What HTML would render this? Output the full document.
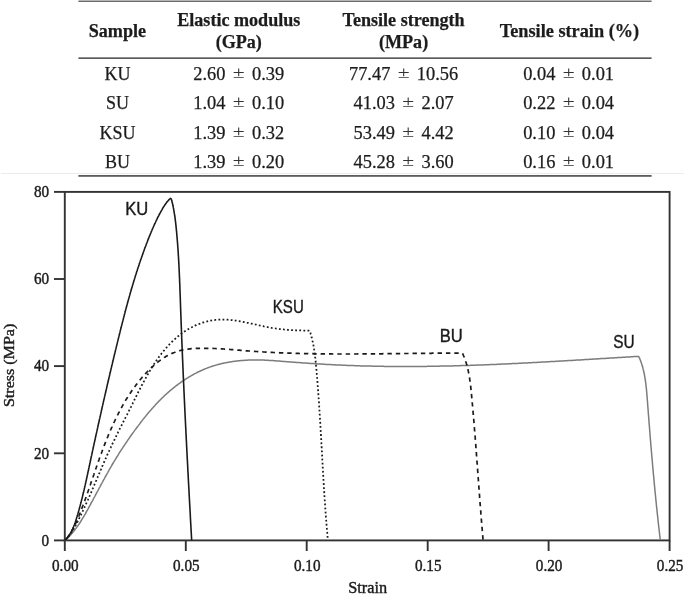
<!DOCTYPE html>
<html lang="en"><head><meta charset="utf-8"><title>Tensile properties</title>
<style>
html,body{margin:0;padding:0;background:#fff}
body{width:685px;height:596px;position:relative;overflow:hidden}
svg{position:absolute;left:0;top:0;display:block}
svg text{font-family:"Liberation Serif","Times New Roman",serif;font-size:15.2px;fill:#1c1c1c;stroke:#1c1c1c;stroke-width:.4px}
svg .tbl text{font-size:18.4px;text-anchor:middle;stroke-width:.25px}
svg .hd text{font-weight:bold;font-size:18.1px}
svg .pm{fill:#333;stroke:none}
svg .lab{font-family:"Liberation Sans","DejaVu Sans",sans-serif;font-size:16.6px;fill:#1a1a1a;stroke:#1a1a1a;stroke-width:.35px}
</style></head><body>
<svg width="685" height="596" viewBox="0 0 685 596">
<rect x="1" y="173" width="683" height="1" fill="#ececec"/>
<g fill="#484848">
<rect x="78.4" y="0.6" width="573.2" height="1.2"/>
<rect x="78.4" y="57.4" width="573.2" height="1.5"/>
<rect x="78.4" y="175" width="573.2" height="1.8" fill="#5c5c5c"/>
</g>
<g class="tbl">
<g class="hd">
<text x="117.4" y="37">Sample</text>
<text x="238.8" y="26.1">Elastic modulus</text><text x="238.8" y="47.6">(GPa)</text>
<text x="403.6" y="26.1">Tensile strength</text><text x="403.6" y="47.6">(MPa)</text>
<text x="569.4" y="37.2" style="font-size:18.3px">Tensile strain (%)</text>
</g>
<text x="117.4" y="79.7" style="font-size:18px">KU</text><text x="225.45" y="79.7" style="text-anchor:end">2.60</text><text class="pm" transform="translate(238.70 77.8) scale(1.18 .95)">±</text><text x="251.95" y="79.7" style="text-anchor:start">0.39</text><text x="390.35" y="79.7" style="text-anchor:end">77.47</text><text class="pm" transform="translate(403.60 77.8) scale(1.18 .95)">±</text><text x="416.85" y="79.7" style="text-anchor:start">10.56</text><text x="555.35" y="79.7" style="text-anchor:end">0.04</text><text class="pm" transform="translate(568.60 77.8) scale(1.18 .95)">±</text><text x="581.85" y="79.7" style="text-anchor:start">0.01</text>
<text x="117.4" y="109.1" style="font-size:18px">SU</text><text x="225.45" y="109.1" style="text-anchor:end">1.04</text><text class="pm" transform="translate(238.70 107.2) scale(1.18 .95)">±</text><text x="251.95" y="109.1" style="text-anchor:start">0.10</text><text x="394.95" y="109.1" style="text-anchor:end">41.03</text><text class="pm" transform="translate(408.20 107.2) scale(1.18 .95)">±</text><text x="421.45" y="109.1" style="text-anchor:start">2.07</text><text x="555.35" y="109.1" style="text-anchor:end">0.22</text><text class="pm" transform="translate(568.60 107.2) scale(1.18 .95)">±</text><text x="581.85" y="109.1" style="text-anchor:start">0.04</text>
<text x="117.4" y="138.6" style="font-size:18px">KSU</text><text x="225.45" y="138.6" style="text-anchor:end">1.39</text><text class="pm" transform="translate(238.70 136.7) scale(1.18 .95)">±</text><text x="251.95" y="138.6" style="text-anchor:start">0.32</text><text x="394.95" y="138.6" style="text-anchor:end">53.49</text><text class="pm" transform="translate(408.20 136.7) scale(1.18 .95)">±</text><text x="421.45" y="138.6" style="text-anchor:start">4.42</text><text x="555.35" y="138.6" style="text-anchor:end">0.10</text><text class="pm" transform="translate(568.60 136.7) scale(1.18 .95)">±</text><text x="581.85" y="138.6" style="text-anchor:start">0.04</text>
<text x="117.4" y="168.3" style="font-size:18px">BU</text><text x="225.45" y="168.3" style="text-anchor:end">1.39</text><text class="pm" transform="translate(238.70 166.4) scale(1.18 .95)">±</text><text x="251.95" y="168.3" style="text-anchor:start">0.20</text><text x="394.95" y="168.3" style="text-anchor:end">45.28</text><text class="pm" transform="translate(408.20 166.4) scale(1.18 .95)">±</text><text x="421.45" y="168.3" style="text-anchor:start">3.60</text><text x="555.35" y="168.3" style="text-anchor:end">0.16</text><text class="pm" transform="translate(568.60 166.4) scale(1.18 .95)">±</text><text x="581.85" y="168.3" style="text-anchor:start">0.01</text>
</g>
<g fill="none" stroke="#333" stroke-width="1.9">
<rect x="64.8" y="191.9" width="604.8" height="348.5"/>
<path d="M64.8 540.4V551"/><path d="M185.8 540.4V551"/><path d="M306.7 540.4V551"/><path d="M427.7 540.4V551"/><path d="M548.6 540.4V551"/><path d="M669.6 540.4V551"/><path d="M54 540.4H64.8"/><path d="M54 453.3H64.8"/><path d="M54 366.1H64.8"/><path d="M54 279.0H64.8"/><path d="M54 191.9H64.8"/>
</g>
<g fill="none" stroke-linejoin="round">
<path d="M64.9 540.5L65.4 540.1L65.8 539.7L66.3 539.3L66.7 538.9L67.2 538.5L67.6 538.1L68.0 537.7L68.4 537.2L68.9 536.8L69.3 536.4L69.7 535.9L70.1 535.5L70.5 535.1L70.9 534.6L71.3 534.2L71.7 533.7L72.1 533.3L72.5 532.8L72.8 532.4L73.2 531.9L73.6 531.5L74.0 531.0L74.3 530.5L74.7 530.1L75.1 529.6L75.4 529.1L75.8 528.6L76.1 528.2L76.5 527.7L76.8 527.2L77.2 526.7L77.5 526.2L77.9 525.7L78.2 525.2L78.6 524.8L78.9 524.3L79.2 523.8L79.6 523.3L79.9 522.8L80.2 522.3L80.5 521.8L80.8 521.3L81.2 520.8L81.5 520.2L81.8 519.7L82.1 519.2L82.4 518.7L82.7 518.2L83.0 517.7L83.3 517.2L83.7 516.7L84.0 516.1L84.3 515.6L84.6 515.1L84.9 514.6L85.2 514.1L85.5 513.5L85.8 513.0L86.0 512.5L86.3 512.0L86.6 511.4L86.9 510.9L87.2 510.4L87.5 509.9L87.8 509.3L88.1 508.8L88.4 508.3L88.7 507.7L89.0 507.2L89.2 506.7L89.5 506.2L89.8 505.6L90.1 505.1L90.4 504.6L90.7 504.0L91.0 503.5L91.2 503.0L91.5 502.5L91.8 501.9L92.1 501.4L92.4 500.9L92.7 500.3L93.0 499.8L93.2 499.3L93.5 498.7L93.8 498.2L94.1 497.7L94.4 497.2L94.7 496.6L94.9 496.1L95.2 495.6L95.5 495.0L95.8 494.5L96.1 494.0L96.4 493.4L96.6 492.9L96.9 492.4L97.2 491.8L97.5 491.3L97.8 490.8L98.1 490.3L98.4 489.7L98.6 489.2L98.9 488.7L99.2 488.1L99.5 487.6L99.8 487.1L100.1 486.5L100.3 486.0L100.6 485.5L100.9 485.0L101.2 484.4L101.5 483.9L101.8 483.4L102.1 482.8L102.3 482.3L102.6 481.8L102.9 481.3L103.2 480.7L103.5 480.2L103.8 479.7L104.1 479.2L104.4 478.6L104.6 478.1L104.9 477.6L105.2 477.0L105.5 476.5L105.8 476.0L106.1 475.5L106.4 474.9L106.7 474.4L107.0 473.9L107.3 473.4L107.6 472.8L107.9 472.3L108.1 471.8L108.4 471.3L108.7 470.8L109.0 470.2L109.3 469.7L109.6 469.2L109.9 468.7L110.2 468.1L110.5 467.6L110.8 467.1L111.1 466.6L111.4 466.1L111.7 465.5L112.0 465.0L112.3 464.5L112.6 464.0L112.9 463.5L113.2 463.0L113.5 462.4L113.9 461.9L114.2 461.4L114.5 460.9L114.8 460.4L115.1 459.9L115.4 459.4L115.7 458.8L116.0 458.3L116.3 457.8L116.6 457.3L117.0 456.8L117.3 456.3L117.6 455.8L117.9 455.3L118.2 454.8L118.5 454.2L118.9 453.7L119.2 453.2L119.5 452.7L119.8 452.2L120.1 451.7L120.5 451.2L120.8 450.7L121.1 450.2L121.4 449.7L121.8 449.2L122.1 448.7L122.4 448.2L122.8 447.7L123.1 447.2L123.4 446.7L123.8 446.2L124.1 445.7L124.4 445.2L124.8 444.7L125.1 444.2L125.4 443.7L125.8 443.2L126.1 442.7L126.4 442.2L126.8 441.7L127.1 441.2L127.5 440.7L127.8 440.2L128.1 439.7L128.5 439.2L128.8 438.7L129.2 438.2L129.5 437.7L129.8 437.3L130.2 436.8L130.5 436.3L130.9 435.8L131.2 435.3L131.6 434.8L131.9 434.3L132.3 433.8L132.6 433.3L133.0 432.8L133.3 432.4L133.7 431.9L134.0 431.4L134.4 430.9L134.7 430.4L135.1 429.9L135.5 429.4L135.8 429.0L136.2 428.5L136.5 428.0L136.9 427.5L137.2 427.0L137.6 426.6L138.0 426.1L138.3 425.6L138.7 425.1L139.0 424.6L139.4 424.2L139.8 423.7L140.1 423.2L140.5 422.7L140.9 422.3L141.2 421.8L141.6 421.3L142.0 420.8L142.3 420.4L142.7 419.9L143.1 419.4L143.4 418.9L143.8 418.5L144.2 418.0L144.6 417.5L144.9 417.1L145.3 416.6L145.7 416.1L146.1 415.7L146.4 415.2L146.8 414.7L147.2 414.3L147.6 413.8L148.0 413.4L148.3 412.9L148.7 412.4L149.1 412.0L149.5 411.5L149.9 411.1L150.3 410.6L150.7 410.2L151.1 409.7L151.5 409.3L151.9 408.8L152.3 408.4L152.7 407.9L153.1 407.5L153.5 407.0L153.9 406.6L154.3 406.1L154.7 405.7L155.1 405.2L155.5 404.8L155.9 404.4L156.3 403.9L156.7 403.5L157.1 403.0L157.5 402.6L158.0 402.2L158.4 401.7L158.8 401.3L159.2 400.9L159.6 400.5L160.1 400.0L160.5 399.6L160.9 399.2L161.3 398.8L161.8 398.3L162.2 397.9L162.6 397.5L163.1 397.1L163.5 396.7L163.9 396.2L164.4 395.8L164.8 395.4L165.2 395.0L165.7 394.6L166.1 394.2L166.6 393.8L167.0 393.4L167.5 393.0L167.9 392.6L168.4 392.2L168.8 391.8L169.3 391.4L169.7 391.0L170.2 390.6L170.7 390.2L171.1 389.8L171.6 389.4L172.1 389.1L172.5 388.7L173.0 388.3L173.5 387.9L173.9 387.5L174.4 387.2L174.9 386.8L175.3 386.4L175.8 386.0L176.3 385.7L176.8 385.3L177.3 385.0L177.7 384.6L178.2 384.2L178.7 383.9L179.2 383.5L179.7 383.2L180.2 382.8L180.7 382.5L181.1 382.1L181.6 381.8L182.1 381.4L182.6 381.1L183.1 380.8L183.6 380.4L184.1 380.1L184.6 379.8L185.1 379.4L185.6 379.1L186.1 378.8L186.6 378.5L187.1 378.1L187.7 377.8L188.2 377.5L188.7 377.2L189.2 376.9L189.7 376.6L190.2 376.3L190.7 376.0L191.3 375.7L191.8 375.4L192.3 375.1L192.8 374.8L193.4 374.5L193.9 374.2L194.4 373.9L194.9 373.6L195.5 373.4L196.0 373.1L196.5 372.8L197.1 372.5L197.6 372.3L198.1 372.0L198.7 371.7L199.2 371.5L199.7 371.2L200.3 371.0L200.8 370.7L201.4 370.5L201.9 370.2L202.5 370.0L203.0 369.8L203.6 369.5L204.1 369.3L204.7 369.1L205.2 368.8L205.8 368.6L206.3 368.4L206.9 368.2L207.4 367.9L208.0 367.7L208.6 367.5L209.1 367.3L209.7 367.1L210.3 366.9L210.8 366.7L211.4 366.5L212.0 366.3L212.5 366.2L213.1 366.0L213.7 365.8L214.2 365.6L214.8 365.4L215.4 365.3L216.0 365.1L216.5 364.9L217.1 364.8L217.7 364.6L218.3 364.5L218.9 364.3L219.4 364.2L220.0 364.0L220.6 363.9L221.2 363.7L221.8 363.6L222.4 363.5L222.9 363.3L223.5 363.2L224.1 363.1L224.7 362.9L225.3 362.8L225.9 362.7L226.5 362.6L227.1 362.5L227.7 362.4L228.2 362.3L228.8 362.2L229.4 362.1L230.0 362.0L230.6 361.9L231.2 361.8L231.8 361.7L232.4 361.6L233.0 361.5L233.6 361.4L234.2 361.3L234.8 361.3L235.4 361.2L236.0 361.1L236.6 361.0L237.2 361.0L237.8 360.9L238.4 360.8L239.0 360.8L239.6 360.7L240.2 360.7L240.8 360.6L241.4 360.6L242.0 360.5L242.6 360.5L243.2 360.4L243.8 360.4L244.4 360.3L245.0 360.3L245.6 360.3L246.2 360.2L246.8 360.2L247.4 360.2L248.0 360.1L248.6 360.1L249.2 360.1L249.8 360.1L250.4 360.1L251.0 360.0L251.6 360.0L252.2 360.0L252.8 360.0L253.4 360.0L254.0 360.0L254.6 360.0L255.2 360.0L255.8 360.0L256.4 360.0L257.0 360.0L257.6 360.0L258.2 360.0L258.8 360.0L259.4 360.0L260.0 360.0L260.6 360.0L261.2 360.0L261.8 360.1L262.4 360.1L263.0 360.1L263.6 360.1L264.2 360.1L264.8 360.2L265.4 360.2L266.0 360.2L266.6 360.2L267.2 360.3L267.8 360.3L268.4 360.3L269.0 360.4L269.6 360.4L270.2 360.4L270.8 360.5L271.4 360.5L272.0 360.6L272.6 360.6L273.2 360.6L273.8 360.7L274.4 360.7L275.0 360.8L275.6 360.8L276.2 360.9L276.8 360.9L277.4 360.9L278.0 361.0L278.5 361.0L279.1 361.1L279.7 361.1L280.3 361.2L280.9 361.2L281.5 361.3L282.1 361.3L282.7 361.4L283.3 361.4L283.9 361.5L284.5 361.5L285.1 361.6L285.7 361.6L286.3 361.7L286.9 361.7L287.5 361.7L288.1 361.8L288.7 361.8L289.3 361.9L289.9 361.9L290.5 362.0L291.1 362.0L291.7 362.1L292.3 362.1L292.9 362.2L293.5 362.2L294.1 362.2L294.7 362.3L295.3 362.3L295.9 362.4L296.5 362.4L297.1 362.5L297.7 362.5L298.3 362.6L298.9 362.6L299.5 362.6L300.1 362.7L300.7 362.7L301.3 362.8L301.9 362.8L302.5 362.9L303.1 362.9L303.7 362.9L304.3 363.0L304.9 363.0L305.5 363.1L306.1 363.1L306.7 363.1L307.3 363.2L307.9 363.2L308.5 363.3L309.1 363.3L309.7 363.4L310.3 363.4L310.9 363.4L311.5 363.5L312.1 363.5L312.7 363.5L313.3 363.6L313.9 363.6L314.5 363.7L315.1 363.7L315.7 363.7L316.3 363.8L316.9 363.8L317.5 363.9L318.1 363.9L318.7 363.9L319.3 364.0L319.9 364.0L320.5 364.0L321.1 364.1L321.7 364.1L322.3 364.1L322.8 364.2L323.4 364.2L324.0 364.2L324.6 364.3L325.2 364.3L325.8 364.4L326.4 364.4L327.0 364.4L327.6 364.5L328.2 364.5L328.8 364.5L329.4 364.5L330.0 364.6L330.6 364.6L331.2 364.6L331.8 364.7L332.4 364.7L333.0 364.7L333.6 364.8L334.2 364.8L334.8 364.8L335.4 364.9L336.0 364.9L336.6 364.9L337.2 364.9L337.8 365.0L338.4 365.0L339.0 365.0L339.6 365.1L340.2 365.1L340.8 365.1L341.4 365.1L342.0 365.2L342.6 365.2L343.2 365.2L343.8 365.2L344.4 365.3L345.0 365.3L345.6 365.3L346.2 365.3L346.8 365.4L347.4 365.4L348.0 365.4L348.6 365.4L349.2 365.5L349.8 365.5L350.4 365.5L351.0 365.5L351.6 365.6L352.2 365.6L352.8 365.6L353.4 365.6L354.0 365.6L354.6 365.7L355.2 365.7L355.8 365.7L356.4 365.7L357.0 365.7L357.6 365.8L358.2 365.8L358.8 365.8L359.4 365.8L360.0 365.8L360.6 365.9L361.2 365.9L361.8 365.9L362.4 365.9L363.0 365.9L363.6 365.9L364.2 366.0L364.8 366.0L365.4 366.0L366.0 366.0L366.6 366.0L367.2 366.0L367.8 366.0L368.4 366.1L369.0 366.1L369.6 366.1L370.2 366.1L370.8 366.1L371.4 366.1L372.0 366.1L372.6 366.2L373.2 366.2L373.8 366.2L374.4 366.2L375.0 366.2L375.6 366.2L376.2 366.2L376.8 366.2L377.4 366.3L378.0 366.3L378.6 366.3L379.2 366.3L379.8 366.3L380.4 366.3L381.0 366.3L381.6 366.3L382.2 366.3L382.9 366.3L383.5 366.3L384.1 366.4L384.7 366.4L385.3 366.4L385.9 366.4L386.5 366.4L387.1 366.4L387.7 366.4L388.3 366.4L388.9 366.4L389.5 366.4L390.1 366.4L390.7 366.4L391.3 366.4L391.9 366.4L392.5 366.4L393.1 366.4L393.7 366.5L394.3 366.5L394.9 366.5L395.5 366.5L396.1 366.5L396.7 366.5L397.3 366.5L397.9 366.5L398.5 366.5L399.1 366.5L399.7 366.5L400.3 366.5L400.9 366.5L401.5 366.5L402.1 366.5L402.7 366.5L403.3 366.5L403.9 366.5L404.5 366.5L405.1 366.5L405.7 366.5L406.3 366.5L406.9 366.5L407.5 366.5L408.1 366.5L408.7 366.5L409.3 366.5L409.9 366.5L410.5 366.5L411.1 366.5L411.7 366.5L412.3 366.5L412.9 366.5L413.5 366.5L414.1 366.5L414.7 366.5L415.3 366.5L415.9 366.5L416.5 366.5L417.1 366.5L417.7 366.4L418.3 366.4L418.9 366.4L419.5 366.4L420.1 366.4L420.7 366.4L421.3 366.4L421.9 366.4L422.5 366.4L423.1 366.4L423.7 366.4L424.3 366.4L424.9 366.4L425.5 366.4L426.1 366.4L426.7 366.4L427.3 366.3L427.9 366.3L428.5 366.3L429.1 366.3L429.7 366.3L430.3 366.3L430.9 366.3L431.5 366.3L432.1 366.3L432.7 366.3L433.3 366.3L433.9 366.3L434.5 366.2L435.1 366.2L435.7 366.2L436.3 366.2L436.9 366.2L437.5 366.2L438.1 366.2L438.7 366.2L439.3 366.2L439.9 366.1L440.5 366.1L441.1 366.1L441.7 366.1L442.3 366.1L442.9 366.1L443.5 366.1L444.1 366.1L444.7 366.0L445.3 366.0L445.9 366.0L446.5 366.0L447.1 366.0L447.7 366.0L448.3 366.0L448.9 366.0L449.5 365.9L450.1 365.9L450.7 365.9L451.3 365.9L451.9 365.9L452.5 365.9L453.1 365.9L453.7 365.8L454.3 365.8L454.9 365.8L455.5 365.8L456.1 365.8L456.7 365.8L457.3 365.7L457.9 365.7L458.5 365.7L459.1 365.7L459.7 365.7L460.3 365.7L460.9 365.6L461.5 365.6L462.1 365.6L462.7 365.6L463.3 365.6L463.9 365.5L464.5 365.5L465.1 365.5L465.7 365.5L466.3 365.5L466.9 365.5L467.5 365.4L468.1 365.4L468.7 365.4L469.3 365.4L469.9 365.4L470.5 365.3L471.1 365.3L471.7 365.3L472.3 365.3L472.9 365.3L473.5 365.2L474.1 365.2L474.7 365.2L475.3 365.2L475.9 365.2L476.5 365.1L477.1 365.1L477.7 365.1L478.3 365.1L478.9 365.0L479.5 365.0L480.1 365.0L480.7 365.0L481.3 365.0L481.9 364.9L482.5 364.9L483.1 364.9L483.7 364.9L484.3 364.8L484.9 364.8L485.5 364.8L486.1 364.8L486.7 364.7L487.3 364.7L487.9 364.7L488.5 364.7L489.2 364.7L489.8 364.6L490.4 364.6L491.0 364.6L491.6 364.6L492.2 364.5L492.8 364.5L493.4 364.5L494.0 364.5L494.6 364.4L495.2 364.4L495.8 364.4L496.4 364.4L497.0 364.3L497.6 364.3L498.2 364.3L498.8 364.2L499.4 364.2L500.0 364.2L500.6 364.2L501.2 364.1L501.8 364.1L502.4 364.1L503.0 364.1L503.6 364.0L504.2 364.0L504.8 364.0L505.4 364.0L506.0 363.9L506.6 363.9L507.2 363.9L507.8 363.8L508.4 363.8L509.0 363.8L509.6 363.8L510.2 363.7L510.8 363.7L511.4 363.7L512.0 363.6L512.6 363.6L513.2 363.6L513.8 363.6L514.4 363.5L515.0 363.5L515.6 363.5L516.2 363.4L516.8 363.4L517.4 363.4L518.0 363.4L518.6 363.3L519.2 363.3L519.8 363.3L520.4 363.2L521.0 363.2L521.6 363.2L522.2 363.1L522.8 363.1L523.4 363.1L524.0 363.1L524.6 363.0L525.2 363.0L525.8 363.0L526.4 362.9L527.0 362.9L527.6 362.9L528.2 362.8L528.8 362.8L529.4 362.8L530.0 362.7L530.6 362.7L531.2 362.7L531.8 362.7L532.4 362.6L533.0 362.6L533.6 362.6L534.2 362.5L534.8 362.5L535.4 362.5L536.0 362.4L536.6 362.4L537.2 362.4L537.8 362.3L538.4 362.3L539.0 362.3L539.6 362.2L540.2 362.2L540.8 362.2L541.4 362.1L542.0 362.1L542.6 362.1L543.2 362.0L543.8 362.0L544.4 362.0L545.0 361.9L545.6 361.9L546.2 361.9L546.8 361.8L547.4 361.8L548.0 361.8L548.6 361.7L549.2 361.7L549.8 361.7L550.4 361.6L551.0 361.6L551.6 361.6L552.2 361.5L552.8 361.5L553.4 361.5L554.0 361.4L554.6 361.4L555.2 361.4L555.8 361.3L556.4 361.3L557.0 361.3L557.6 361.2L558.2 361.2L558.8 361.2L559.4 361.1L560.0 361.1L560.6 361.1L561.2 361.0L561.8 361.0L562.4 361.0L563.0 360.9L563.6 360.9L564.2 360.8L564.8 360.8L565.4 360.8L566.0 360.7L566.6 360.7L567.2 360.7L567.8 360.6L568.4 360.6L569.0 360.6L569.6 360.5L570.2 360.5L570.8 360.5L571.4 360.4L572.0 360.4L572.6 360.4L573.2 360.3L573.8 360.3L574.4 360.2L575.0 360.2L575.6 360.2L576.2 360.1L576.8 360.1L577.4 360.1L578.0 360.0L578.6 360.0L579.2 360.0L579.8 359.9L580.4 359.9L581.0 359.9L581.6 359.8L582.2 359.8L582.8 359.7L583.4 359.7L584.0 359.7L584.6 359.6L585.2 359.6L585.8 359.6L586.4 359.5L587.0 359.5L587.6 359.5L588.2 359.4L588.8 359.4L589.4 359.3L590.0 359.3L590.6 359.3L591.2 359.2L591.8 359.2L592.4 359.2L593.0 359.1L593.6 359.1L594.2 359.1L594.8 359.0L595.4 359.0L596.0 358.9L596.6 358.9L597.2 358.9L597.8 358.8L598.4 358.8L599.0 358.8L599.6 358.7L600.2 358.7L600.7 358.6L601.3 358.6L601.9 358.6L602.5 358.5L603.1 358.5L603.7 358.5L604.3 358.4L604.9 358.4L605.5 358.4L606.1 358.3L606.7 358.3L607.3 358.2L607.9 358.2L608.5 358.2L609.1 358.1L609.7 358.1L610.3 358.1L610.9 358.0L611.5 358.0L612.1 358.0L612.7 357.9L613.3 357.9L613.9 357.8L614.5 357.8L615.1 357.8L615.7 357.7L616.3 357.7L616.9 357.7L617.5 357.6L618.1 357.6L618.7 357.6L619.3 357.5L619.9 357.5L620.5 357.4L621.1 357.4L621.7 357.4L622.3 357.3L622.9 357.3L623.5 357.3L624.1 357.2L624.7 357.2L625.3 357.2L625.9 357.1L626.5 357.1L627.1 357.0L627.7 357.0L628.3 357.0L628.9 356.9L629.5 356.9L630.1 356.9L630.7 356.8L631.3 356.8L631.9 356.8L632.5 356.7L633.1 356.7L633.7 356.6L634.3 356.6L634.9 356.6L635.5 356.5L636.1 356.5L636.7 356.5L637.3 356.4L637.9 356.4L638.7 356.5L639.0 357.1L639.2 357.6L639.5 358.1L639.7 358.7L640.0 359.2L640.2 359.8L640.4 360.3L640.6 360.9L640.8 361.4L641.0 362.0L641.2 362.5L641.4 363.1L641.6 363.7L641.8 364.2L642.0 364.8L642.1 365.4L642.3 365.9L642.5 366.5L642.6 367.1L642.8 367.7L642.9 368.2L643.1 368.8L643.2 369.4L643.4 370.0L643.5 370.6L643.6 371.1L643.8 371.7L643.9 372.3L644.0 372.9L644.1 373.5L644.3 374.1L644.4 374.6L644.5 375.2L644.6 375.8L644.7 376.4L644.8 377.0L644.9 377.6L645.0 378.2L645.1 378.8L645.2 379.4L645.3 380.0L645.4 380.5L645.5 381.1L645.5 381.7L645.6 382.3L645.7 382.9L645.8 383.5L645.9 384.1L645.9 384.7L646.0 385.3L646.1 385.9L646.1 386.5L646.2 387.1L646.3 387.7L646.3 388.3L646.4 388.9L646.5 389.5L646.5 390.1L646.6 390.7L646.6 391.3L646.7 391.9L646.7 392.5L646.8 393.1L646.8 393.7L646.9 394.3L646.9 394.9L647.0 395.6L647.0 396.2L647.1 396.8L647.1 397.4L647.2 398.0L647.2 398.6L647.3 399.2L647.3 399.8L647.4 400.4L647.4 401.0L647.5 401.6L647.5 402.2L647.6 402.8L647.6 403.4L647.6 404.0L647.7 404.6L647.7 405.2L647.8 405.8L647.8 406.4L647.9 407.0L647.9 407.6L648.0 408.2L648.0 408.8L648.1 409.4L648.1 410.1L648.2 410.7L648.2 411.3L648.2 411.9L648.3 412.5L648.3 413.1L648.4 413.7L648.4 414.3L648.5 414.9L648.5 415.5L648.6 416.1L648.6 416.7L648.7 417.3L648.7 417.9L648.8 418.5L648.8 419.1L648.9 419.7L648.9 420.3L648.9 420.9L649.0 421.5L649.0 422.1L649.1 422.7L649.1 423.3L649.2 423.9L649.2 424.5L649.3 425.1L649.3 425.7L649.4 426.3L649.4 426.9L649.5 427.5L649.5 428.1L649.6 428.7L649.6 429.3L649.7 429.9L649.7 430.5L649.8 431.1L649.8 431.7L649.9 432.3L649.9 432.9L650.0 433.5L650.0 434.1L650.0 434.7L650.1 435.3L650.1 435.9L650.2 436.5L650.2 437.1L650.3 437.7L650.3 438.3L650.4 438.9L650.4 439.5L650.5 440.1L650.5 440.7L650.6 441.3L650.6 441.9L650.7 442.5L650.7 443.1L650.8 443.7L650.8 444.3L650.9 444.9L650.9 445.5L651.0 446.1L651.0 446.7L651.1 447.3L651.1 447.9L651.2 448.5L651.2 449.1L651.3 449.7L651.3 450.3L651.4 450.9L651.4 451.5L651.5 452.1L651.5 452.7L651.6 453.3L651.6 453.9L651.7 454.5L651.7 455.1L651.8 455.7L651.8 456.3L651.9 456.9L652.0 457.5L652.0 458.1L652.1 458.7L652.1 459.3L652.2 459.9L652.2 460.5L652.3 461.1L652.3 461.7L652.4 462.3L652.4 462.9L652.5 463.5L652.5 464.1L652.6 464.7L652.6 465.3L652.7 465.9L652.7 466.5L652.8 467.1L652.8 467.7L652.9 468.3L653.0 468.9L653.0 469.5L653.1 470.1L653.1 470.7L653.2 471.3L653.2 471.9L653.3 472.5L653.3 473.1L653.4 473.7L653.4 474.3L653.5 474.9L653.6 475.5L653.6 476.1L653.7 476.7L653.7 477.3L653.8 477.9L653.8 478.5L653.9 479.1L653.9 479.7L654.0 480.3L654.1 480.9L654.1 481.5L654.2 482.1L654.2 482.7L654.3 483.3L654.3 483.9L654.4 484.5L654.4 485.1L654.5 485.7L654.6 486.3L654.6 486.9L654.7 487.5L654.7 488.1L654.8 488.7L654.8 489.3L654.9 489.9L655.0 490.5L655.0 491.1L655.1 491.7L655.1 492.3L655.2 492.9L655.3 493.5L655.3 494.1L655.4 494.7L655.4 495.3L655.5 495.9L655.6 496.5L655.6 497.1L655.7 497.7L655.7 498.3L655.8 498.9L655.8 499.5L655.9 500.1L656.0 500.7L656.0 501.3L656.1 501.9L656.2 502.5L656.2 503.1L656.3 503.7L656.3 504.3L656.4 504.9L656.5 505.4L656.5 506.0L656.6 506.6L656.6 507.2L656.7 507.8L656.8 508.4L656.8 509.0L656.9 509.6L657.0 510.2L657.0 510.8L657.1 511.4L657.1 512.0L657.2 512.6L657.3 513.2L657.3 513.8L657.4 514.4L657.5 515.0L657.5 515.6L657.6 516.2L657.7 516.8L657.7 517.4L657.8 518.0L657.9 518.6L657.9 519.2L658.0 519.8L658.0 520.4L658.1 521.0L658.2 521.6L658.2 522.2L658.3 522.8L658.4 523.4L658.4 524.0L658.5 524.6L658.6 525.2L658.6 525.8L658.7 526.4L658.8 527.0L658.8 527.6L658.9 528.2L659.0 528.8L659.1 529.4L659.1 530.0L659.2 530.6L659.3 531.2L659.3 531.8L659.4 532.4L659.5 533.0L659.5 533.6L659.6 534.2L659.7 534.8L659.7 535.4L659.8 536.0L659.9 536.6L660.0 537.2L660.0 537.8L660.1 538.4L660.2 539.0L660.2 539.6" stroke="#7c7c7c" stroke-width="1.5"/>
<path d="M64.9 540.5L65.3 540.1L65.7 539.6L66.1 539.2L66.5 538.7L66.9 538.2L67.3 537.8L67.7 537.3L68.0 536.8L68.4 536.3L68.7 535.9L69.1 535.4L69.4 534.9L69.7 534.4L70.1 533.9L70.4 533.4L70.7 532.9L71.0 532.4L71.3 531.9L71.6 531.3L71.9 530.8L72.2 530.3L72.5 529.8L72.8 529.2L73.1 528.7L73.4 528.2L73.6 527.7L73.9 527.1L74.2 526.6L74.4 526.0L74.7 525.5L74.9 525.0L75.2 524.4L75.5 523.9L75.7 523.3L75.9 522.8L76.2 522.2L76.4 521.7L76.7 521.1L76.9 520.6L77.1 520.0L77.4 519.4L77.6 518.9L77.8 518.3L78.1 517.8L78.3 517.2L78.5 516.7L78.8 516.1L79.0 515.6L79.2 515.0L79.4 514.4L79.7 513.9L79.9 513.3L80.1 512.8L80.3 512.2L80.5 511.6L80.8 511.1L81.0 510.5L81.2 510.0L81.4 509.4L81.6 508.9L81.8 508.3L82.1 507.7L82.3 507.2L82.5 506.6L82.7 506.1L82.9 505.5L83.1 504.9L83.3 504.4L83.5 503.8L83.7 503.3L84.0 502.7L84.2 502.1L84.4 501.6L84.6 501.0L84.8 500.5L85.0 499.9L85.2 499.3L85.4 498.8L85.6 498.2L85.8 497.6L86.0 497.1L86.2 496.5L86.4 496.0L86.6 495.4L86.8 494.8L87.0 494.3L87.2 493.7L87.4 493.1L87.6 492.6L87.8 492.0L88.0 491.5L88.2 490.9L88.4 490.3L88.6 489.8L88.8 489.2L89.0 488.6L89.2 488.1L89.4 487.5L89.6 486.9L89.8 486.4L90.0 485.8L90.2 485.2L90.4 484.7L90.5 484.1L90.7 483.6L90.9 483.0L91.1 482.4L91.3 481.9L91.5 481.3L91.7 480.7L91.9 480.2L92.1 479.6L92.3 479.0L92.5 478.5L92.7 477.9L92.9 477.3L93.1 476.8L93.3 476.2L93.5 475.6L93.7 475.1L93.9 474.5L94.0 473.9L94.2 473.4L94.4 472.8L94.6 472.2L94.8 471.7L95.0 471.1L95.2 470.5L95.4 470.0L95.6 469.4L95.8 468.8L96.0 468.2L96.2 467.7L96.4 467.1L96.6 466.5L96.8 466.0L97.0 465.4L97.2 464.8L97.4 464.3L97.6 463.7L97.8 463.1L98.0 462.6L98.2 462.0L98.4 461.4L98.6 460.9L98.8 460.3L99.0 459.7L99.2 459.2L99.4 458.6L99.6 458.0L99.8 457.4L100.0 456.9L100.2 456.3L100.4 455.7L100.6 455.2L100.9 454.6L101.1 454.0L101.3 453.5L101.5 452.9L101.7 452.3L101.9 451.8L102.1 451.2L102.3 450.6L102.5 450.1L102.7 449.5L103.0 448.9L103.2 448.4L103.4 447.8L103.6 447.2L103.8 446.7L104.0 446.1L104.2 445.6L104.5 445.0L104.7 444.4L104.9 443.9L105.1 443.3L105.3 442.7L105.6 442.2L105.8 441.6L106.0 441.0L106.2 440.5L106.5 439.9L106.7 439.4L106.9 438.8L107.1 438.2L107.4 437.7L107.6 437.1L107.8 436.6L108.0 436.0L108.3 435.4L108.5 434.9L108.7 434.3L109.0 433.8L109.2 433.2L109.4 432.7L109.7 432.1L109.9 431.5L110.2 431.0L110.4 430.4L110.6 429.9L110.9 429.3L111.1 428.8L111.4 428.2L111.6 427.7L111.9 427.1L112.1 426.6L112.3 426.0L112.6 425.5L112.8 424.9L113.1 424.4L113.3 423.8L113.6 423.3L113.8 422.7L114.1 422.2L114.4 421.6L114.6 421.1L114.9 420.6L115.1 420.0L115.4 419.5L115.7 418.9L115.9 418.4L116.2 417.8L116.4 417.3L116.7 416.8L117.0 416.2L117.2 415.7L117.5 415.2L117.8 414.6L118.1 414.1L118.3 413.5L118.6 413.0L118.9 412.5L119.2 411.9L119.4 411.4L119.7 410.9L120.0 410.4L120.3 409.8L120.6 409.3L120.9 408.8L121.1 408.2L121.4 407.7L121.7 407.2L122.0 406.7L122.3 406.1L122.6 405.6L122.9 405.1L123.2 404.6L123.5 404.1L123.8 403.5L124.1 403.0L124.4 402.5L124.7 402.0L125.0 401.5L125.3 401.0L125.6 400.4L125.9 399.9L126.2 399.4L126.5 398.9L126.9 398.4L127.2 397.9L127.5 397.4L127.8 396.9L128.1 396.4L128.5 395.9L128.8 395.4L129.1 394.9L129.4 394.4L129.8 393.9L130.1 393.4L130.4 392.9L130.8 392.4L131.1 391.9L131.4 391.4L131.8 390.9L132.1 390.4L132.5 389.9L132.8 389.4L133.1 388.9L133.5 388.4L133.8 388.0L134.2 387.5L134.5 387.0L134.9 386.5L135.3 386.0L135.6 385.5L136.0 385.1L136.3 384.6L136.7 384.1L137.1 383.6L137.4 383.2L137.8 382.7L138.2 382.2L138.5 381.8L138.9 381.3L139.3 380.8L139.7 380.4L140.1 379.9L140.4 379.4L140.8 379.0L141.2 378.5L141.6 378.0L142.0 377.6L142.4 377.1L142.8 376.7L143.2 376.2L143.6 375.8L144.0 375.3L144.4 374.9L144.8 374.4L145.2 374.0L145.6 373.5L146.0 373.1L146.4 372.6L146.8 372.2L147.3 371.8L147.7 371.3L148.1 370.9L148.5 370.5L149.0 370.0L149.4 369.6L149.8 369.2L150.2 368.8L150.7 368.3L151.1 367.9L151.6 367.5L152.0 367.1L152.4 366.7L152.9 366.3L153.3 365.9L153.8 365.5L154.2 365.1L154.7 364.7L155.1 364.3L155.6 363.9L156.1 363.5L156.5 363.1L157.0 362.8L157.5 362.4L157.9 362.0L158.4 361.6L158.9 361.3L159.4 360.9L159.8 360.6L160.3 360.2L160.8 359.9L161.3 359.5L161.8 359.2L162.3 358.8L162.8 358.5L163.3 358.2L163.8 357.9L164.3 357.5L164.8 357.2L165.3 356.9L165.8 356.6L166.3 356.3L166.8 356.0L167.3 355.7L167.8 355.5L168.4 355.2L168.9 354.9L169.4 354.6L169.9 354.4L170.5 354.1L171.0 353.9L171.5 353.6L172.1 353.4L172.6 353.1L173.2 352.9L173.7 352.7L174.3 352.5L174.8 352.3L175.4 352.1L175.9 351.9L176.5 351.7L177.0 351.5L177.6 351.3L178.2 351.1L178.7 351.0L179.3 350.8L179.9 350.6L180.5 350.5L181.1 350.3L181.6 350.2L182.2 350.1L182.8 350.0L183.4 349.8L184.0 349.7L184.6 349.6L185.2 349.5L185.8 349.4L186.4 349.3L187.0 349.2L187.6 349.2L188.2 349.1L188.8 349.0L189.4 348.9L190.0 348.9L190.6 348.8L191.2 348.7L191.8 348.7L192.4 348.6L193.0 348.6L193.6 348.6L194.2 348.5L194.9 348.5L195.5 348.5L196.1 348.4L196.7 348.4L197.3 348.4L197.9 348.4L198.5 348.3L199.1 348.3L199.8 348.3L200.4 348.3L201.0 348.3L201.6 348.3L202.2 348.3L202.8 348.3L203.4 348.3L204.0 348.3L204.6 348.3L205.2 348.3L205.9 348.3L206.5 348.3L207.1 348.3L207.7 348.3L208.3 348.3L208.9 348.3L209.5 348.3L210.1 348.3L210.7 348.4L211.3 348.4L211.9 348.4L212.5 348.4L213.1 348.4L213.7 348.5L214.3 348.5L214.9 348.5L215.5 348.5L216.1 348.6L216.7 348.6L217.3 348.6L218.0 348.7L218.6 348.7L219.2 348.7L219.8 348.8L220.4 348.8L221.0 348.8L221.6 348.9L222.2 348.9L222.8 348.9L223.4 349.0L224.0 349.0L224.6 349.1L225.2 349.1L225.8 349.1L226.4 349.2L227.0 349.2L227.6 349.3L228.2 349.3L228.8 349.4L229.3 349.4L229.9 349.5L230.5 349.5L231.1 349.6L231.7 349.6L232.3 349.6L232.9 349.7L233.5 349.7L234.1 349.8L234.7 349.8L235.3 349.9L235.9 349.9L236.5 350.0L237.1 350.0L237.7 350.1L238.3 350.1L238.9 350.2L239.5 350.2L240.1 350.3L240.7 350.3L241.3 350.4L241.9 350.4L242.5 350.5L243.1 350.5L243.7 350.6L244.3 350.6L244.9 350.7L245.5 350.7L246.1 350.8L246.7 350.8L247.3 350.9L247.9 350.9L248.5 351.0L249.1 351.0L249.7 351.0L250.3 351.1L250.8 351.1L251.4 351.2L252.0 351.2L252.6 351.3L253.2 351.3L253.8 351.3L254.4 351.4L255.0 351.4L255.6 351.5L256.2 351.5L256.8 351.5L257.4 351.6L258.0 351.6L258.6 351.7L259.2 351.7L259.8 351.7L260.4 351.8L261.0 351.8L261.6 351.8L262.2 351.9L262.8 351.9L263.4 352.0L264.0 352.0L264.6 352.0L265.2 352.1L265.8 352.1L266.4 352.1L267.0 352.2L267.6 352.2L268.2 352.2L268.8 352.3L269.4 352.3L270.0 352.3L270.6 352.3L271.2 352.4L271.8 352.4L272.4 352.4L273.0 352.5L273.6 352.5L274.2 352.5L274.8 352.6L275.4 352.6L276.0 352.6L276.6 352.6L277.2 352.7L277.8 352.7L278.4 352.7L279.0 352.7L279.6 352.8L280.2 352.8L280.8 352.8L281.4 352.8L282.0 352.9L282.6 352.9L283.2 352.9L283.8 352.9L284.4 353.0L285.0 353.0L285.6 353.0L286.2 353.0L286.8 353.1L287.4 353.1L288.0 353.1L288.6 353.1L289.2 353.1L289.8 353.2L290.4 353.2L291.0 353.2L291.6 353.2L292.2 353.2L292.8 353.3L293.4 353.3L293.9 353.3L294.5 353.3L295.1 353.3L295.7 353.4L296.3 353.4L296.9 353.4L297.5 353.4L298.1 353.4L298.7 353.4L299.3 353.5L299.9 353.5L300.5 353.5L301.1 353.5L301.7 353.5L302.3 353.5L302.9 353.5L303.5 353.6L304.1 353.6L304.7 353.6L305.3 353.6L305.9 353.6L306.5 353.6L307.1 353.6L307.8 353.6L308.4 353.7L309.0 353.7L309.6 353.7L310.2 353.7L310.8 353.7L311.4 353.7L312.0 353.7L312.6 353.7L313.2 353.7L313.8 353.8L314.4 353.8L315.0 353.8L315.6 353.8L316.2 353.8L316.8 353.8L317.4 353.8L318.0 353.8L318.6 353.8L319.2 353.8L319.8 353.8L320.4 353.8L321.0 353.9L321.6 353.9L322.2 353.9L322.8 353.9L323.4 353.9L324.0 353.9L324.6 353.9L325.2 353.9L325.8 353.9L326.4 353.9L327.0 353.9L327.6 353.9L328.2 353.9L328.8 353.9L329.4 353.9L330.0 353.9L330.6 353.9L331.2 353.9L331.8 353.9L332.4 354.0L333.0 354.0L333.6 354.0L334.2 354.0L334.8 354.0L335.4 354.0L336.0 354.0L336.6 354.0L337.2 354.0L337.8 354.0L338.4 354.0L339.0 354.0L339.6 354.0L340.2 354.0L340.8 354.0L341.4 354.0L342.0 354.0L342.6 354.0L343.2 354.0L343.8 354.0L344.4 354.0L345.0 354.0L345.6 354.0L346.2 354.0L346.8 354.0L347.4 354.0L348.0 354.0L348.6 354.0L349.2 354.0L349.8 354.0L350.4 354.0L351.0 354.0L351.6 354.0L352.2 354.0L352.8 354.0L353.4 354.0L354.0 354.0L354.6 354.0L355.2 354.0L355.8 354.0L356.4 354.0L357.0 354.0L357.6 353.9L358.2 353.9L358.8 353.9L359.4 353.9L360.0 353.9L360.6 353.9L361.2 353.9L361.8 353.9L362.4 353.9L363.0 353.9L363.6 353.9L364.2 353.9L364.8 353.9L365.4 353.9L366.0 353.9L366.7 353.9L367.3 353.9L367.9 353.9L368.5 353.9L369.1 353.9L369.7 353.9L370.3 353.9L370.9 353.9L371.5 353.9L372.1 353.8L372.7 353.8L373.3 353.8L373.9 353.8L374.5 353.8L375.1 353.8L375.7 353.8L376.3 353.8L376.9 353.8L377.5 353.8L378.1 353.8L378.7 353.8L379.3 353.8L379.9 353.8L380.5 353.8L381.1 353.8L381.7 353.8L382.3 353.8L382.9 353.7L383.5 353.7L384.1 353.7L384.7 353.7L385.3 353.7L385.9 353.7L386.5 353.7L387.1 353.7L387.7 353.7L388.3 353.7L388.9 353.7L389.5 353.7L390.1 353.7L390.7 353.7L391.3 353.7L391.9 353.6L392.5 353.6L393.1 353.6L393.7 353.6L394.3 353.6L394.9 353.6L395.5 353.6L396.1 353.6L396.7 353.6L397.3 353.6L397.9 353.6L398.5 353.6L399.1 353.6L399.7 353.6L400.3 353.6L400.9 353.5L401.5 353.5L402.1 353.5L402.7 353.5L403.3 353.5L403.9 353.5L404.5 353.5L405.1 353.5L405.7 353.5L406.3 353.5L406.9 353.5L407.5 353.5L408.1 353.5L408.7 353.5L409.3 353.5L410.0 353.4L410.6 353.4L411.2 353.4L411.8 353.4L412.4 353.4L413.0 353.4L413.6 353.4L414.2 353.4L414.8 353.4L415.4 353.4L416.0 353.4L416.6 353.4L417.2 353.4L417.8 353.4L418.4 353.4L419.0 353.4L419.6 353.4L420.2 353.3L420.8 353.3L421.4 353.3L422.0 353.3L422.6 353.3L423.2 353.3L423.8 353.3L424.4 353.3L425.0 353.3L425.6 353.3L426.2 353.3L426.8 353.3L427.4 353.3L428.0 353.3L428.6 353.3L429.2 353.3L429.8 353.3L430.4 353.3L431.0 353.3L431.6 353.3L432.2 353.2L432.8 353.2L433.4 353.2L434.0 353.2L434.6 353.2L435.2 353.2L435.8 353.2L436.4 353.2L437.0 353.2L437.6 353.2L438.2 353.2L438.8 353.2L439.4 353.2L440.0 353.2L440.6 353.2L441.2 353.2L441.8 353.2L442.4 353.2L443.0 353.2L443.6 353.2L444.2 353.2L444.8 353.2L445.4 353.2L446.0 353.2L446.6 353.2L447.2 353.2L447.8 353.2L448.4 353.2L449.0 353.2L449.6 353.2L450.2 353.2L450.8 353.2L451.4 353.2L452.0 353.2L452.6 353.2L453.2 353.2L453.8 353.2L454.4 353.2L455.0 353.2L455.6 353.2L456.2 353.2L456.8 353.2L457.4 353.2L458.0 353.2L458.6 353.2L459.2 353.2L459.8 353.2L460.4 353.2L461.0 353.2L461.6 353.2L462.5 353.3L462.8 353.9L463.0 354.4L463.3 355.0L463.5 355.5L463.7 356.1L464.0 356.6L464.2 357.2L464.4 357.7L464.6 358.3L464.8 358.9L465.0 359.4L465.2 360.0L465.4 360.5L465.6 361.1L465.8 361.7L466.0 362.2L466.2 362.8L466.4 363.4L466.5 363.9L466.7 364.5L466.8 365.1L467.0 365.7L467.2 366.2L467.3 366.8L467.5 367.4L467.6 368.0L467.7 368.5L467.9 369.1L468.0 369.7L468.1 370.3L468.3 370.9L468.4 371.5L468.5 372.0L468.6 372.6L468.7 373.2L468.9 373.8L469.0 374.4L469.1 375.0L469.2 375.6L469.3 376.2L469.4 376.7L469.5 377.3L469.6 377.9L469.6 378.5L469.7 379.1L469.8 379.7L469.9 380.3L470.0 380.9L470.1 381.5L470.2 382.1L470.2 382.7L470.3 383.3L470.4 383.9L470.4 384.5L470.5 385.1L470.6 385.7L470.7 386.3L470.7 386.9L470.8 387.5L470.9 388.1L470.9 388.7L471.0 389.3L471.0 389.9L471.1 390.5L471.2 391.1L471.2 391.7L471.3 392.3L471.3 392.9L471.4 393.5L471.5 394.1L471.5 394.7L471.6 395.3L471.6 395.9L471.7 396.5L471.7 397.1L471.8 397.7L471.8 398.3L471.9 398.9L472.0 399.5L472.0 400.1L472.1 400.7L472.1 401.3L472.2 401.9L472.2 402.5L472.3 403.1L472.3 403.7L472.4 404.3L472.5 404.9L472.5 405.5L472.6 406.1L472.6 406.7L472.7 407.3L472.7 407.9L472.8 408.5L472.8 409.1L472.9 409.7L472.9 410.3L473.0 410.9L473.0 411.5L473.1 412.1L473.1 412.7L473.2 413.3L473.2 413.9L473.3 414.5L473.3 415.1L473.4 415.7L473.4 416.3L473.5 416.9L473.6 417.5L473.6 418.1L473.7 418.7L473.7 419.3L473.8 419.9L473.8 420.5L473.9 421.1L473.9 421.7L474.0 422.3L474.0 422.9L474.1 423.5L474.1 424.1L474.1 424.7L474.2 425.3L474.2 425.9L474.3 426.5L474.3 427.1L474.4 427.7L474.4 428.3L474.5 428.9L474.5 429.5L474.6 430.1L474.6 430.7L474.7 431.3L474.7 431.9L474.8 432.5L474.8 433.1L474.9 433.7L474.9 434.3L475.0 434.9L475.0 435.5L475.1 436.1L475.1 436.7L475.2 437.3L475.2 437.9L475.3 438.5L475.3 439.1L475.3 439.7L475.4 440.3L475.4 440.9L475.5 441.5L475.5 442.1L475.6 442.7L475.6 443.3L475.7 443.9L475.7 444.5L475.8 445.1L475.8 445.7L475.9 446.3L475.9 446.9L475.9 447.5L476.0 448.1L476.0 448.8L476.1 449.4L476.1 450.0L476.2 450.6L476.2 451.2L476.3 451.8L476.3 452.4L476.4 453.0L476.4 453.6L476.4 454.2L476.5 454.8L476.5 455.4L476.6 456.0L476.6 456.6L476.7 457.2L476.7 457.8L476.8 458.4L476.8 459.0L476.8 459.6L476.9 460.2L476.9 460.8L477.0 461.4L477.0 462.0L477.1 462.6L477.1 463.2L477.2 463.8L477.2 464.4L477.2 465.0L477.3 465.6L477.3 466.2L477.4 466.8L477.4 467.4L477.5 468.0L477.5 468.6L477.6 469.2L477.6 469.8L477.6 470.4L477.7 471.0L477.7 471.6L477.8 472.2L477.8 472.8L477.9 473.4L477.9 474.0L478.0 474.6L478.0 475.2L478.0 475.8L478.1 476.4L478.1 477.0L478.2 477.6L478.2 478.2L478.3 478.8L478.3 479.4L478.4 480.0L478.4 480.6L478.4 481.2L478.5 481.8L478.5 482.4L478.6 483.0L478.6 483.6L478.7 484.2L478.7 484.8L478.8 485.4L478.8 486.0L478.8 486.6L478.9 487.2L478.9 487.8L479.0 488.4L479.0 489.0L479.1 489.6L479.1 490.2L479.2 490.8L479.2 491.4L479.2 492.0L479.3 492.6L479.3 493.2L479.4 493.8L479.4 494.4L479.5 495.0L479.5 495.6L479.6 496.2L479.6 496.8L479.6 497.4L479.7 498.0L479.7 498.6L479.8 499.2L479.8 499.8L479.9 500.4L479.9 501.0L480.0 501.6L480.0 502.2L480.1 502.8L480.1 503.4L480.1 504.0L480.2 504.6L480.2 505.2L480.3 505.8L480.3 506.4L480.4 507.0L480.4 507.6L480.5 508.2L480.5 508.8L480.6 509.4L480.6 510.0L480.7 510.6L480.7 511.2L480.8 511.8L480.8 512.4L480.8 513.0L480.9 513.6L480.9 514.2L481.0 514.8L481.0 515.4L481.1 516.0L481.1 516.6L481.2 517.2L481.2 517.8L481.3 518.4L481.3 519.0L481.4 519.6L481.4 520.2L481.5 520.8L481.5 521.4L481.6 522.0L481.6 522.6L481.7 523.2L481.7 523.8L481.8 524.4L481.8 525.0L481.9 525.6L481.9 526.2L482.0 526.8L482.0 527.4L482.1 528.0L482.1 528.6L482.2 529.2L482.2 529.8L482.3 530.4L482.3 531.0L482.4 531.6L482.4 532.2L482.5 532.8L482.5 533.4L482.6 534.0L482.6 534.6L482.7 535.2L482.7 535.8L482.8 536.4L482.8 537.0L482.9 537.6L482.9 538.2L483.0 538.8L483.0 539.4L483.1 540.0" stroke="#1a1a1a" stroke-width="1.7" stroke-dasharray="4.4 3.96" stroke-dashoffset="-2.6"/>
<path d="M65.0 540.5L65.4 540.1L65.8 539.6L66.2 539.2L66.6 538.7L66.9 538.3L67.3 537.8L67.7 537.3L68.1 536.9L68.4 536.4L68.8 535.9L69.2 535.4L69.5 534.9L69.9 534.5L70.2 534.0L70.6 533.5L70.9 533.0L71.2 532.5L71.6 532.0L71.9 531.5L72.2 531.0L72.5 530.5L72.9 530.0L73.2 529.5L73.5 529.0L73.8 528.5L74.1 527.9L74.4 527.4L74.7 526.9L75.0 526.4L75.3 525.9L75.6 525.3L75.9 524.8L76.2 524.3L76.5 523.8L76.7 523.2L77.0 522.7L77.3 522.2L77.6 521.6L77.9 521.1L78.1 520.6L78.4 520.0L78.7 519.5L79.0 519.0L79.2 518.4L79.5 517.9L79.8 517.4L80.0 516.8L80.3 516.3L80.5 515.7L80.8 515.2L81.1 514.7L81.3 514.1L81.6 513.6L81.9 513.0L82.1 512.5L82.4 511.9L82.6 511.4L82.9 510.9L83.1 510.3L83.4 509.8L83.6 509.2L83.9 508.7L84.1 508.1L84.4 507.6L84.7 507.0L84.9 506.5L85.2 505.9L85.4 505.4L85.6 504.9L85.9 504.3L86.1 503.8L86.4 503.2L86.6 502.7L86.9 502.1L87.1 501.6L87.4 501.0L87.6 500.5L87.9 499.9L88.1 499.4L88.3 498.8L88.6 498.3L88.8 497.7L89.1 497.2L89.3 496.6L89.6 496.1L89.8 495.5L90.0 495.0L90.3 494.4L90.5 493.9L90.7 493.3L91.0 492.8L91.2 492.2L91.5 491.7L91.7 491.1L91.9 490.6L92.2 490.0L92.4 489.5L92.6 488.9L92.9 488.4L93.1 487.8L93.4 487.2L93.6 486.7L93.8 486.1L94.1 485.6L94.3 485.0L94.5 484.5L94.8 483.9L95.0 483.4L95.2 482.8L95.5 482.3L95.7 481.7L95.9 481.2L96.2 480.6L96.4 480.1L96.6 479.5L96.9 479.0L97.1 478.4L97.3 477.9L97.6 477.3L97.8 476.7L98.1 476.2L98.3 475.6L98.5 475.1L98.8 474.5L99.0 474.0L99.2 473.4L99.5 472.9L99.7 472.3L99.9 471.8L100.2 471.2L100.4 470.7L100.6 470.1L100.9 469.6L101.1 469.0L101.3 468.5L101.6 467.9L101.8 467.4L102.1 466.8L102.3 466.2L102.5 465.7L102.8 465.1L103.0 464.6L103.3 464.0L103.5 463.5L103.7 462.9L104.0 462.4L104.2 461.8L104.5 461.3L104.7 460.7L104.9 460.2L105.2 459.6L105.4 459.1L105.7 458.5L105.9 458.0L106.2 457.4L106.4 456.9L106.6 456.3L106.9 455.8L107.1 455.2L107.4 454.7L107.6 454.1L107.9 453.6L108.1 453.0L108.4 452.5L108.6 451.9L108.9 451.4L109.1 450.9L109.4 450.3L109.6 449.8L109.9 449.2L110.2 448.7L110.4 448.1L110.7 447.6L110.9 447.0L111.2 446.5L111.4 445.9L111.7 445.4L111.9 444.9L112.2 444.3L112.5 443.8L112.7 443.2L113.0 442.7L113.2 442.1L113.5 441.6L113.8 441.0L114.0 440.5L114.3 440.0L114.6 439.4L114.8 438.9L115.1 438.3L115.4 437.8L115.6 437.3L115.9 436.7L116.2 436.2L116.4 435.6L116.7 435.1L117.0 434.5L117.2 434.0L117.5 433.5L117.8 432.9L118.0 432.4L118.3 431.8L118.6 431.3L118.8 430.8L119.1 430.2L119.4 429.7L119.6 429.2L119.9 428.6L120.2 428.1L120.5 427.5L120.7 427.0L121.0 426.5L121.3 425.9L121.5 425.4L121.8 424.8L122.1 424.3L122.4 423.8L122.6 423.2L122.9 422.7L123.2 422.2L123.4 421.6L123.7 421.1L124.0 420.6L124.3 420.0L124.5 419.5L124.8 418.9L125.1 418.4L125.4 417.9L125.6 417.3L125.9 416.8L126.2 416.3L126.4 415.7L126.7 415.2L127.0 414.7L127.3 414.1L127.5 413.6L127.8 413.0L128.1 412.5L128.3 412.0L128.6 411.4L128.9 410.9L129.2 410.4L129.4 409.8L129.7 409.3L130.0 408.8L130.2 408.2L130.5 407.7L130.8 407.2L131.1 406.6L131.3 406.1L131.6 405.6L131.9 405.0L132.1 404.5L132.4 404.0L132.7 403.4L132.9 402.9L133.2 402.4L133.5 401.8L133.7 401.3L134.0 400.8L134.3 400.2L134.5 399.7L134.8 399.1L135.1 398.6L135.3 398.1L135.6 397.5L135.9 397.0L136.1 396.5L136.4 395.9L136.7 395.4L136.9 394.9L137.2 394.3L137.5 393.8L137.7 393.3L138.0 392.8L138.3 392.2L138.5 391.7L138.8 391.2L139.1 390.6L139.4 390.1L139.6 389.6L139.9 389.0L140.2 388.5L140.4 388.0L140.7 387.4L141.0 386.9L141.3 386.4L141.5 385.8L141.8 385.3L142.1 384.8L142.4 384.3L142.6 383.7L142.9 383.2L143.2 382.7L143.5 382.1L143.8 381.6L144.1 381.1L144.3 380.6L144.6 380.0L144.9 379.5L145.2 379.0L145.5 378.5L145.8 377.9L146.1 377.4L146.4 376.9L146.7 376.4L147.0 375.8L147.3 375.3L147.5 374.8L147.8 374.3L148.2 373.7L148.5 373.2L148.8 372.7L149.1 372.2L149.4 371.7L149.7 371.1L150.0 370.6L150.3 370.1L150.6 369.6L150.9 369.1L151.3 368.5L151.6 368.0L151.9 367.5L152.2 367.0L152.5 366.5L152.9 366.0L153.2 365.5L153.5 364.9L153.9 364.4L154.2 363.9L154.5 363.4L154.9 362.9L155.2 362.4L155.5 361.9L155.9 361.4L156.2 360.9L156.6 360.4L156.9 359.9L157.3 359.4L157.6 358.9L158.0 358.4L158.3 357.9L158.7 357.4L159.0 356.9L159.4 356.4L159.8 355.9L160.1 355.4L160.5 354.9L160.9 354.5L161.2 354.0L161.6 353.5L162.0 353.0L162.4 352.5L162.7 352.1L163.1 351.6L163.5 351.1L163.9 350.7L164.3 350.2L164.7 349.7L165.0 349.3L165.4 348.8L165.8 348.3L166.2 347.9L166.6 347.4L167.0 347.0L167.4 346.5L167.8 346.1L168.3 345.6L168.7 345.2L169.1 344.7L169.5 344.3L169.9 343.9L170.3 343.4L170.8 343.0L171.2 342.6L171.6 342.2L172.0 341.7L172.5 341.3L172.9 340.9L173.3 340.5L173.8 340.1L174.2 339.7L174.7 339.3L175.1 338.9L175.6 338.5L176.0 338.1L176.5 337.7L176.9 337.3L177.4 336.9L177.8 336.5L178.3 336.1L178.8 335.8L179.2 335.4L179.7 335.0L180.2 334.6L180.6 334.3L181.1 333.9L181.6 333.6L182.1 333.2L182.6 332.9L183.1 332.5L183.6 332.2L184.0 331.8L184.5 331.5L185.0 331.2L185.5 330.8L186.1 330.5L186.6 330.2L187.1 329.9L187.6 329.6L188.1 329.3L188.6 329.0L189.1 328.7L189.7 328.4L190.2 328.1L190.7 327.8L191.2 327.5L191.8 327.2L192.3 327.0L192.8 326.7L193.4 326.4L193.9 326.2L194.5 325.9L195.0 325.6L195.5 325.4L196.1 325.2L196.6 324.9L197.2 324.7L197.7 324.5L198.3 324.2L198.9 324.0L199.4 323.8L200.0 323.6L200.5 323.4L201.1 323.2L201.7 323.0L202.2 322.8L202.8 322.6L203.4 322.4L203.9 322.3L204.5 322.1L205.1 321.9L205.6 321.8L206.2 321.6L206.8 321.5L207.4 321.3L208.0 321.2L208.5 321.0L209.1 320.9L209.7 320.8L210.3 320.7L210.9 320.6L211.4 320.5L212.0 320.4L212.6 320.3L213.2 320.2L213.8 320.1L214.4 320.0L214.9 320.0L215.5 319.9L216.1 319.8L216.7 319.8L217.3 319.7L217.9 319.7L218.5 319.6L219.1 319.6L219.6 319.6L220.2 319.6L220.8 319.6L221.4 319.5L222.0 319.5L222.6 319.5L223.2 319.5L223.8 319.6L224.4 319.6L225.0 319.6L225.6 319.6L226.2 319.6L226.7 319.7L227.3 319.7L227.9 319.7L228.5 319.8L229.1 319.8L229.7 319.9L230.3 319.9L230.9 320.0L231.5 320.1L232.1 320.1L232.7 320.2L233.3 320.3L233.9 320.3L234.5 320.4L235.1 320.5L235.7 320.6L236.3 320.7L236.9 320.8L237.5 320.9L238.1 321.0L238.7 321.1L239.3 321.2L239.9 321.3L240.5 321.4L241.1 321.5L241.7 321.6L242.2 321.7L242.8 321.8L243.4 321.9L244.0 322.1L244.6 322.2L245.2 322.3L245.8 322.4L246.4 322.5L247.0 322.7L247.6 322.8L248.2 322.9L248.8 323.1L249.4 323.2L250.0 323.3L250.6 323.4L251.2 323.6L251.8 323.7L252.4 323.8L253.0 324.0L253.6 324.1L254.2 324.2L254.8 324.4L255.4 324.5L256.0 324.6L256.6 324.8L257.2 324.9L257.8 325.1L258.4 325.2L259.0 325.3L259.6 325.5L260.2 325.6L260.8 325.7L261.4 325.8L262.0 326.0L262.6 326.1L263.2 326.2L263.8 326.4L264.4 326.5L265.0 326.6L265.6 326.7L266.2 326.9L266.8 327.0L267.4 327.1L268.0 327.2L268.6 327.3L269.2 327.4L269.8 327.5L270.3 327.7L270.9 327.8L271.5 327.9L272.1 328.0L272.7 328.1L273.3 328.2L273.9 328.3L274.5 328.4L275.1 328.4L275.7 328.5L276.3 328.6L276.9 328.7L277.5 328.8L278.1 328.9L278.6 328.9L279.2 329.0L279.8 329.1L280.4 329.1L281.0 329.2L281.6 329.3L282.2 329.3L282.8 329.4L283.4 329.4L284.0 329.5L284.6 329.6L285.2 329.6L285.7 329.7L286.3 329.7L286.9 329.7L287.5 329.8L288.1 329.8L288.7 329.9L289.3 329.9L289.9 330.0L290.5 330.0L291.1 330.0L291.7 330.1L292.3 330.1L292.9 330.1L293.5 330.1L294.0 330.2L294.6 330.2L295.2 330.2L295.8 330.3L296.4 330.3L297.0 330.3L297.6 330.3L298.2 330.3L298.8 330.4L299.4 330.4L300.0 330.4L300.6 330.4L301.2 330.4L301.8 330.4L302.4 330.4L303.0 330.5L303.6 330.5L304.2 330.5L304.8 330.5L305.5 330.5L306.1 330.5L306.7 330.5L307.3 330.5L307.9 330.5L308.5 330.6L309.1 330.6L309.8 331.1L310.0 331.7L310.2 332.3L310.4 332.8L310.6 333.4L310.7 334.0L310.9 334.6L311.1 335.2L311.2 335.7L311.4 336.3L311.5 336.9L311.7 337.5L311.8 338.1L312.0 338.7L312.1 339.2L312.3 339.8L312.4 340.4L312.5 341.0L312.7 341.6L312.8 342.2L312.9 342.8L313.0 343.3L313.1 343.9L313.3 344.5L313.4 345.1L313.5 345.7L313.6 346.3L313.7 346.9L313.8 347.5L313.9 348.1L314.0 348.7L314.1 349.3L314.2 349.9L314.3 350.4L314.4 351.0L314.4 351.6L314.5 352.2L314.6 352.8L314.7 353.4L314.8 354.0L314.8 354.6L314.9 355.2L315.0 355.8L315.1 356.4L315.1 357.0L315.2 357.6L315.3 358.2L315.3 358.8L315.4 359.4L315.5 360.0L315.5 360.6L315.6 361.2L315.7 361.8L315.7 362.4L315.8 363.0L315.8 363.6L315.9 364.2L316.0 364.8L316.0 365.4L316.1 366.0L316.1 366.6L316.2 367.2L316.2 367.8L316.3 368.4L316.3 369.0L316.4 369.6L316.5 370.2L316.5 370.8L316.6 371.4L316.6 372.0L316.7 372.6L316.7 373.2L316.8 373.8L316.8 374.4L316.9 375.0L316.9 375.6L317.0 376.2L317.0 376.8L317.1 377.4L317.1 378.0L317.2 378.6L317.2 379.2L317.3 379.8L317.3 380.4L317.4 381.0L317.4 381.6L317.5 382.2L317.5 382.8L317.6 383.4L317.6 384.0L317.7 384.6L317.7 385.2L317.7 385.8L317.8 386.4L317.8 387.0L317.9 387.6L317.9 388.2L318.0 388.8L318.0 389.4L318.1 390.0L318.1 390.6L318.2 391.2L318.2 391.8L318.2 392.4L318.3 393.0L318.3 393.6L318.4 394.2L318.4 394.8L318.5 395.4L318.5 396.0L318.5 396.6L318.6 397.2L318.6 397.9L318.7 398.5L318.7 399.1L318.8 399.7L318.8 400.3L318.8 400.9L318.9 401.5L318.9 402.1L319.0 402.7L319.0 403.3L319.0 403.9L319.1 404.5L319.1 405.1L319.2 405.7L319.2 406.3L319.2 406.9L319.3 407.5L319.3 408.1L319.4 408.7L319.4 409.3L319.4 409.9L319.5 410.5L319.5 411.1L319.6 411.7L319.6 412.3L319.6 412.9L319.7 413.5L319.7 414.1L319.7 414.7L319.8 415.3L319.8 415.9L319.9 416.5L319.9 417.1L319.9 417.7L320.0 418.3L320.0 418.9L320.0 419.5L320.1 420.1L320.1 420.7L320.1 421.3L320.2 421.9L320.2 422.5L320.3 423.2L320.3 423.8L320.3 424.4L320.4 425.0L320.4 425.6L320.4 426.2L320.5 426.8L320.5 427.4L320.5 428.0L320.6 428.6L320.6 429.2L320.6 429.8L320.7 430.4L320.7 431.0L320.7 431.6L320.8 432.2L320.8 432.8L320.8 433.4L320.9 434.0L320.9 434.6L321.0 435.2L321.0 435.8L321.0 436.4L321.1 437.0L321.1 437.6L321.1 438.2L321.2 438.8L321.2 439.4L321.2 440.0L321.3 440.6L321.3 441.2L321.3 441.8L321.4 442.4L321.4 443.0L321.4 443.6L321.5 444.3L321.5 444.9L321.5 445.5L321.6 446.1L321.6 446.7L321.6 447.3L321.7 447.9L321.7 448.5L321.7 449.1L321.8 449.7L321.8 450.3L321.8 450.9L321.9 451.5L321.9 452.1L321.9 452.7L322.0 453.3L322.0 453.9L322.0 454.5L322.1 455.1L322.1 455.7L322.1 456.3L322.2 456.9L322.2 457.5L322.2 458.1L322.3 458.7L322.3 459.3L322.3 459.9L322.4 460.5L322.4 461.1L322.4 461.7L322.5 462.3L322.5 462.9L322.5 463.5L322.6 464.2L322.6 464.8L322.6 465.4L322.7 466.0L322.7 466.6L322.7 467.2L322.8 467.8L322.8 468.4L322.8 469.0L322.9 469.6L322.9 470.2L322.9 470.8L323.0 471.4L323.0 472.0L323.0 472.6L323.1 473.2L323.1 473.8L323.1 474.4L323.2 475.0L323.2 475.6L323.3 476.2L323.3 476.8L323.3 477.4L323.4 478.0L323.4 478.6L323.4 479.2L323.5 479.8L323.5 480.4L323.5 481.0L323.6 481.6L323.6 482.2L323.6 482.8L323.7 483.4L323.7 484.0L323.8 484.6L323.8 485.2L323.8 485.9L323.9 486.5L323.9 487.1L323.9 487.7L324.0 488.3L324.0 488.9L324.0 489.5L324.1 490.1L324.1 490.7L324.2 491.3L324.2 491.9L324.2 492.5L324.3 493.1L324.3 493.7L324.4 494.3L324.4 494.9L324.4 495.5L324.5 496.1L324.5 496.7L324.5 497.3L324.6 497.9L324.6 498.5L324.7 499.1L324.7 499.7L324.7 500.3L324.8 500.9L324.8 501.5L324.9 502.1L324.9 502.7L324.9 503.3L325.0 503.9L325.0 504.5L325.1 505.1L325.1 505.7L325.2 506.3L325.2 506.9L325.2 507.5L325.3 508.1L325.3 508.7L325.4 509.3L325.4 509.9L325.5 510.5L325.5 511.1L325.5 511.7L325.6 512.3L325.6 512.9L325.7 513.5L325.7 514.1L325.8 514.7L325.8 515.3L325.9 515.9L325.9 516.6L325.9 517.2L326.0 517.8L326.0 518.4L326.1 519.0L326.1 519.6L326.2 520.2L326.2 520.8L326.3 521.4L326.3 522.0L326.4 522.6L326.4 523.2L326.5 523.8L326.5 524.4L326.6 525.0L326.6 525.6L326.7 526.2L326.7 526.8L326.8 527.4L326.8 528.0L326.9 528.6L326.9 529.2L327.0 529.8L327.0 530.4L327.1 531.0L327.1 531.6L327.2 532.2L327.2 532.8L327.3 533.4L327.3 534.0L327.4 534.6L327.4 535.2L327.5 535.8L327.5 536.4L327.6 537.0L327.7 537.6L327.7 538.2L327.8 538.8L327.8 539.4L327.9 540.0" stroke="#1a1a1a" stroke-width="1.75" stroke-dasharray="1.8 2.3" stroke-dashoffset="-1.2"/>
<path d="M64.7 540.3L65.2 539.9L65.6 539.5L66.0 539.0L66.4 538.6L66.9 538.1L67.3 537.7L67.6 537.2L68.0 536.8L68.4 536.3L68.7 535.8L69.1 535.3L69.4 534.8L69.7 534.3L70.1 533.8L70.4 533.3L70.7 532.8L71.0 532.3L71.2 531.8L71.5 531.3L71.8 530.7L72.1 530.2L72.3 529.7L72.6 529.1L72.8 528.6L73.0 528.0L73.3 527.5L73.5 527.0L73.7 526.4L73.9 525.8L74.2 525.3L74.4 524.7L74.6 524.2L74.8 523.6L75.0 523.0L75.2 522.5L75.4 521.9L75.5 521.3L75.7 520.8L75.9 520.2L76.1 519.6L76.3 519.0L76.5 518.5L76.6 517.9L76.8 517.3L77.0 516.7L77.2 516.2L77.3 515.6L77.5 515.0L77.7 514.4L77.8 513.8L78.0 513.3L78.2 512.7L78.4 512.1L78.5 511.5L78.7 511.0L78.8 510.4L79.0 509.8L79.2 509.2L79.3 508.6L79.5 508.1L79.6 507.5L79.8 506.9L80.0 506.3L80.1 505.7L80.3 505.2L80.4 504.6L80.6 504.0L80.7 503.4L80.9 502.8L81.0 502.3L81.2 501.7L81.3 501.1L81.5 500.5L81.6 499.9L81.8 499.4L81.9 498.8L82.1 498.2L82.2 497.6L82.4 497.0L82.5 496.4L82.6 495.9L82.8 495.3L82.9 494.7L83.1 494.1L83.2 493.5L83.3 492.9L83.5 492.3L83.6 491.8L83.8 491.2L83.9 490.6L84.0 490.0L84.2 489.4L84.3 488.8L84.4 488.3L84.6 487.7L84.7 487.1L84.8 486.5L85.0 485.9L85.1 485.3L85.2 484.7L85.4 484.2L85.5 483.6L85.6 483.0L85.8 482.4L85.9 481.8L86.0 481.2L86.2 480.6L86.3 480.0L86.4 479.5L86.5 478.9L86.7 478.3L86.8 477.7L86.9 477.1L87.1 476.5L87.2 475.9L87.3 475.3L87.4 474.8L87.6 474.2L87.7 473.6L87.8 473.0L87.9 472.4L88.1 471.8L88.2 471.2L88.3 470.6L88.5 470.1L88.6 469.5L88.7 468.9L88.8 468.3L89.0 467.7L89.1 467.1L89.2 466.5L89.3 465.9L89.5 465.4L89.6 464.8L89.7 464.2L89.8 463.6L90.0 463.0L90.1 462.4L90.2 461.8L90.3 461.2L90.5 460.6L90.6 460.1L90.7 459.5L90.8 458.9L91.0 458.3L91.1 457.7L91.2 457.1L91.3 456.5L91.5 455.9L91.6 455.4L91.7 454.8L91.9 454.2L92.0 453.6L92.1 453.0L92.2 452.4L92.4 451.8L92.5 451.2L92.6 450.7L92.7 450.1L92.9 449.5L93.0 448.9L93.1 448.3L93.2 447.7L93.4 447.1L93.5 446.5L93.6 446.0L93.8 445.4L93.9 444.8L94.0 444.2L94.1 443.6L94.3 443.0L94.4 442.4L94.5 441.8L94.7 441.3L94.8 440.7L94.9 440.1L95.0 439.5L95.2 438.9L95.3 438.3L95.4 437.7L95.6 437.1L95.7 436.6L95.8 436.0L95.9 435.4L96.1 434.8L96.2 434.2L96.3 433.6L96.5 433.0L96.6 432.4L96.7 431.9L96.8 431.3L97.0 430.7L97.1 430.1L97.2 429.5L97.4 428.9L97.5 428.3L97.6 427.7L97.8 427.2L97.9 426.6L98.0 426.0L98.1 425.4L98.3 424.8L98.4 424.2L98.5 423.6L98.7 423.1L98.8 422.5L98.9 421.9L99.1 421.3L99.2 420.7L99.3 420.1L99.4 419.5L99.6 418.9L99.7 418.4L99.8 417.8L100.0 417.2L100.1 416.6L100.2 416.0L100.4 415.4L100.5 414.8L100.6 414.3L100.8 413.7L100.9 413.1L101.0 412.5L101.2 411.9L101.3 411.3L101.4 410.7L101.5 410.1L101.7 409.6L101.8 409.0L101.9 408.4L102.1 407.8L102.2 407.2L102.3 406.6L102.5 406.0L102.6 405.5L102.7 404.9L102.9 404.3L103.0 403.7L103.1 403.1L103.3 402.5L103.4 401.9L103.5 401.3L103.7 400.8L103.8 400.2L103.9 399.6L104.1 399.0L104.2 398.4L104.3 397.8L104.5 397.2L104.6 396.7L104.7 396.1L104.9 395.5L105.0 394.9L105.1 394.3L105.3 393.7L105.4 393.1L105.6 392.6L105.7 392.0L105.8 391.4L106.0 390.8L106.1 390.2L106.2 389.6L106.4 389.0L106.5 388.5L106.6 387.9L106.8 387.3L106.9 386.7L107.0 386.1L107.2 385.5L107.3 384.9L107.4 384.4L107.6 383.8L107.7 383.2L107.9 382.6L108.0 382.0L108.1 381.4L108.3 380.8L108.4 380.3L108.5 379.7L108.7 379.1L108.8 378.5L108.9 377.9L109.1 377.3L109.2 376.7L109.4 376.2L109.5 375.6L109.6 375.0L109.8 374.4L109.9 373.8L110.0 373.2L110.2 372.6L110.3 372.1L110.5 371.5L110.6 370.9L110.7 370.3L110.9 369.7L111.0 369.1L111.1 368.5L111.3 368.0L111.4 367.4L111.6 366.8L111.7 366.2L111.8 365.6L112.0 365.0L112.1 364.5L112.3 363.9L112.4 363.3L112.5 362.7L112.7 362.1L112.8 361.5L112.9 360.9L113.1 360.4L113.2 359.8L113.4 359.2L113.5 358.6L113.6 358.0L113.8 357.4L113.9 356.8L114.1 356.3L114.2 355.7L114.3 355.1L114.5 354.5L114.6 353.9L114.8 353.3L114.9 352.8L115.1 352.2L115.2 351.6L115.3 351.0L115.5 350.4L115.6 349.8L115.8 349.2L115.9 348.7L116.0 348.1L116.2 347.5L116.3 346.9L116.5 346.3L116.6 345.7L116.8 345.2L116.9 344.6L117.0 344.0L117.2 343.4L117.3 342.8L117.5 342.2L117.6 341.7L117.7 341.1L117.9 340.5L118.0 339.9L118.2 339.3L118.3 338.7L118.5 338.2L118.6 337.6L118.8 337.0L118.9 336.4L119.0 335.8L119.2 335.2L119.3 334.6L119.5 334.1L119.6 333.5L119.8 332.9L119.9 332.3L120.1 331.7L120.2 331.1L120.3 330.6L120.5 330.0L120.6 329.4L120.8 328.8L120.9 328.2L121.1 327.6L121.2 327.1L121.4 326.5L121.5 325.9L121.7 325.3L121.8 324.7L122.0 324.2L122.1 323.6L122.3 323.0L122.4 322.4L122.6 321.8L122.7 321.2L122.9 320.7L123.0 320.1L123.2 319.5L123.3 318.9L123.5 318.3L123.6 317.7L123.8 317.2L123.9 316.6L124.1 316.0L124.2 315.4L124.4 314.8L124.5 314.3L124.7 313.7L124.8 313.1L125.0 312.5L125.1 311.9L125.3 311.3L125.4 310.8L125.6 310.2L125.7 309.6L125.9 309.0L126.0 308.4L126.2 307.9L126.4 307.3L126.5 306.7L126.7 306.1L126.8 305.5L127.0 305.0L127.1 304.4L127.3 303.8L127.5 303.2L127.6 302.6L127.8 302.1L127.9 301.5L128.1 300.9L128.3 300.3L128.4 299.7L128.6 299.2L128.7 298.6L128.9 298.0L129.1 297.4L129.2 296.9L129.4 296.3L129.6 295.7L129.7 295.1L129.9 294.5L130.0 294.0L130.2 293.4L130.4 292.8L130.5 292.2L130.7 291.7L130.9 291.1L131.0 290.5L131.2 289.9L131.4 289.3L131.5 288.8L131.7 288.2L131.9 287.6L132.1 287.0L132.2 286.5L132.4 285.9L132.6 285.3L132.7 284.7L132.9 284.2L133.1 283.6L133.3 283.0L133.4 282.4L133.6 281.9L133.8 281.3L133.9 280.7L134.1 280.1L134.3 279.6L134.5 279.0L134.7 278.4L134.8 277.8L135.0 277.3L135.2 276.7L135.4 276.1L135.5 275.5L135.7 275.0L135.9 274.4L136.1 273.8L136.3 273.2L136.4 272.7L136.6 272.1L136.8 271.5L137.0 271.0L137.2 270.4L137.4 269.8L137.5 269.2L137.7 268.7L137.9 268.1L138.1 267.5L138.3 267.0L138.5 266.4L138.7 265.8L138.9 265.2L139.1 264.7L139.2 264.1L139.4 263.5L139.6 263.0L139.8 262.4L140.0 261.8L140.2 261.3L140.4 260.7L140.6 260.1L140.8 259.5L141.0 259.0L141.2 258.4L141.4 257.8L141.6 257.3L141.8 256.7L142.0 256.1L142.2 255.6L142.4 255.0L142.6 254.4L142.8 253.9L143.0 253.3L143.2 252.7L143.4 252.2L143.6 251.6L143.8 251.0L144.0 250.5L144.2 249.9L144.4 249.3L144.6 248.8L144.8 248.2L145.0 247.6L145.2 247.1L145.5 246.5L145.7 246.0L145.9 245.4L146.1 244.8L146.3 244.3L146.5 243.7L146.7 243.1L147.0 242.6L147.2 242.0L147.4 241.5L147.6 240.9L147.8 240.3L148.0 239.8L148.3 239.2L148.5 238.6L148.7 238.1L148.9 237.5L149.1 237.0L149.4 236.4L149.6 235.8L149.8 235.3L150.1 234.7L150.3 234.2L150.5 233.6L150.7 233.1L151.0 232.5L151.2 231.9L151.4 231.4L151.7 230.8L151.9 230.3L152.1 229.7L152.4 229.2L152.6 228.6L152.9 228.1L153.1 227.5L153.3 227.0L153.6 226.4L153.8 225.9L154.1 225.3L154.3 224.8L154.6 224.2L154.8 223.7L155.1 223.1L155.3 222.6L155.6 222.0L155.8 221.5L156.1 220.9L156.4 220.4L156.6 219.9L156.9 219.3L157.1 218.8L157.4 218.2L157.7 217.7L157.9 217.2L158.2 216.6L158.5 216.1L158.8 215.6L159.0 215.0L159.3 214.5L159.6 214.0L159.9 213.4L160.2 212.9L160.5 212.4L160.7 211.9L161.0 211.3L161.3 210.8L161.6 210.3L161.9 209.8L162.2 209.3L162.5 208.7L162.8 208.2L163.1 207.7L163.4 207.2L163.7 206.7L164.1 206.2L164.4 205.7L164.7 205.2L165.0 204.7L165.4 204.2L165.7 203.7L166.1 203.2L166.4 202.8L166.8 202.3L167.1 201.8L167.5 201.4L167.9 200.9L168.3 200.5L168.7 200.0L169.1 199.6L169.5 199.2L170.0 198.8L170.4 198.4L171.4 199.1L171.5 199.7L171.7 200.3L171.8 200.9L172.0 201.4L172.1 202.0L172.3 202.6L172.4 203.2L172.5 203.8L172.7 204.3L172.8 204.9L172.9 205.5L173.0 206.1L173.2 206.7L173.3 207.3L173.4 207.9L173.5 208.4L173.6 209.0L173.7 209.6L173.8 210.2L173.9 210.8L174.0 211.4L174.1 212.0L174.2 212.6L174.3 213.2L174.4 213.7L174.5 214.3L174.6 214.9L174.7 215.5L174.8 216.1L174.9 216.7L175.0 217.3L175.0 217.9L175.1 218.5L175.2 219.1L175.3 219.7L175.3 220.3L175.4 220.9L175.5 221.5L175.6 222.1L175.6 222.7L175.7 223.3L175.8 223.9L175.8 224.4L175.9 225.0L176.0 225.6L176.0 226.2L176.1 226.8L176.1 227.4L176.2 228.0L176.3 228.6L176.3 229.2L176.4 229.8L176.4 230.4L176.5 231.0L176.6 231.6L176.6 232.2L176.7 232.8L176.7 233.4L176.8 234.0L176.8 234.6L176.9 235.2L176.9 235.8L177.0 236.4L177.0 237.0L177.1 237.6L177.1 238.2L177.2 238.8L177.2 239.4L177.3 240.0L177.3 240.6L177.4 241.2L177.4 241.8L177.5 242.4L177.5 243.0L177.6 243.6L177.6 244.2L177.7 244.8L177.7 245.4L177.7 246.0L177.8 246.6L177.8 247.2L177.9 247.8L177.9 248.4L178.0 249.0L178.0 249.6L178.0 250.2L178.1 250.8L178.1 251.4L178.2 252.0L178.2 252.6L178.2 253.2L178.3 253.8L178.3 254.4L178.3 255.0L178.4 255.6L178.4 256.2L178.5 256.8L178.5 257.4L178.5 258.0L178.6 258.6L178.6 259.2L178.6 259.8L178.7 260.4L178.7 261.0L178.7 261.6L178.8 262.2L178.8 262.8L178.8 263.4L178.9 264.0L178.9 264.6L178.9 265.2L178.9 265.8L179.0 266.4L179.0 267.0L179.0 267.6L179.1 268.2L179.1 268.8L179.1 269.4L179.2 270.0L179.2 270.6L179.2 271.2L179.2 271.8L179.3 272.4L179.3 273.0L179.3 273.6L179.3 274.2L179.4 274.8L179.4 275.4L179.4 276.0L179.4 276.6L179.5 277.2L179.5 277.8L179.5 278.4L179.6 279.0L179.6 279.6L179.6 280.2L179.6 280.8L179.6 281.4L179.7 282.0L179.7 282.6L179.7 283.2L179.7 283.8L179.8 284.4L179.8 285.0L179.8 285.6L179.8 286.2L179.9 286.8L179.9 287.4L179.9 288.1L179.9 288.7L179.9 289.3L180.0 289.9L180.0 290.5L180.0 291.1L180.0 291.7L180.1 292.3L180.1 292.9L180.1 293.5L180.1 294.1L180.1 294.7L180.2 295.3L180.2 295.9L180.2 296.5L180.2 297.1L180.3 297.7L180.3 298.3L180.3 298.9L180.3 299.5L180.3 300.1L180.4 300.7L180.4 301.3L180.4 301.9L180.4 302.5L180.4 303.1L180.5 303.7L180.5 304.3L180.5 304.9L180.5 305.5L180.5 306.1L180.6 306.7L180.6 307.3L180.6 307.9L180.6 308.5L180.6 309.1L180.7 309.7L180.7 310.3L180.7 310.9L180.7 311.5L180.8 312.1L180.8 312.7L180.8 313.3L180.8 313.9L180.8 314.5L180.9 315.1L180.9 315.7L180.9 316.3L180.9 316.9L181.0 317.5L181.0 318.1L181.0 318.7L181.0 319.3L181.0 319.9L181.1 320.5L181.1 321.1L181.1 321.7L181.1 322.3L181.1 322.9L181.2 323.5L181.2 324.1L181.2 324.7L181.2 325.3L181.3 326.0L181.3 326.6L181.3 327.2L181.3 327.8L181.4 328.4L181.4 329.0L181.4 329.6L181.4 330.2L181.4 330.8L181.5 331.4L181.5 332.0L181.5 332.6L181.5 333.2L181.6 333.8L181.6 334.4L181.6 335.0L181.6 335.6L181.7 336.2L181.7 336.8L181.7 337.4L181.7 338.0L181.7 338.6L181.8 339.2L181.8 339.8L181.8 340.4L181.8 341.0L181.9 341.6L181.9 342.2L181.9 342.8L181.9 343.4L182.0 344.0L182.0 344.6L182.0 345.2L182.0 345.8L182.1 346.4L182.1 347.0L182.1 347.6L182.1 348.2L182.2 348.8L182.2 349.4L182.2 350.0L182.2 350.6L182.3 351.2L182.3 351.8L182.3 352.4L182.3 353.0L182.4 353.6L182.4 354.2L182.4 354.8L182.4 355.4L182.4 356.0L182.5 356.6L182.5 357.2L182.5 357.8L182.5 358.4L182.6 359.0L182.6 359.6L182.6 360.2L182.7 360.8L182.7 361.4L182.7 362.0L182.7 362.6L182.8 363.2L182.8 363.8L182.8 364.4L182.8 365.0L182.9 365.6L182.9 366.2L182.9 366.8L182.9 367.4L183.0 368.0L183.0 368.6L183.0 369.2L183.0 369.8L183.1 370.4L183.1 371.0L183.1 371.6L183.1 372.2L183.2 372.8L183.2 373.4L183.2 374.0L183.2 374.6L183.3 375.2L183.3 375.8L183.3 376.4L183.3 377.0L183.4 377.6L183.4 378.2L183.4 378.8L183.5 379.4L183.5 380.0L183.5 380.6L183.5 381.2L183.6 381.8L183.6 382.4L183.6 383.0L183.6 383.6L183.7 384.2L183.7 384.8L183.7 385.4L183.8 386.0L183.8 386.6L183.8 387.2L183.8 387.8L183.9 388.4L183.9 389.0L183.9 389.6L183.9 390.3L184.0 390.9L184.0 391.5L184.0 392.1L184.1 392.7L184.1 393.3L184.1 393.9L184.1 394.5L184.2 395.1L184.2 395.7L184.2 396.3L184.2 396.9L184.3 397.5L184.3 398.1L184.3 398.7L184.4 399.3L184.4 399.9L184.4 400.5L184.4 401.1L184.5 401.7L184.5 402.3L184.5 402.9L184.6 403.5L184.6 404.1L184.6 404.7L184.6 405.3L184.7 405.9L184.7 406.5L184.7 407.1L184.7 407.7L184.8 408.3L184.8 408.9L184.8 409.5L184.9 410.1L184.9 410.7L184.9 411.3L184.9 411.9L185.0 412.5L185.0 413.1L185.0 413.7L185.1 414.3L185.1 414.9L185.1 415.5L185.1 416.1L185.2 416.7L185.2 417.3L185.2 417.9L185.3 418.5L185.3 419.1L185.3 419.7L185.4 420.3L185.4 420.9L185.4 421.5L185.4 422.1L185.5 422.7L185.5 423.3L185.5 423.9L185.6 424.5L185.6 425.1L185.6 425.7L185.6 426.3L185.7 426.9L185.7 427.5L185.7 428.1L185.8 428.7L185.8 429.3L185.8 429.9L185.9 430.5L185.9 431.1L185.9 431.7L185.9 432.3L186.0 432.9L186.0 433.5L186.0 434.1L186.1 434.7L186.1 435.3L186.1 435.9L186.2 436.5L186.2 437.1L186.2 437.7L186.2 438.3L186.3 438.9L186.3 439.5L186.3 440.1L186.4 440.7L186.4 441.3L186.4 441.9L186.5 442.5L186.5 443.1L186.5 443.7L186.5 444.3L186.6 444.9L186.6 445.5L186.6 446.1L186.7 446.7L186.7 447.3L186.7 447.9L186.8 448.5L186.8 449.1L186.8 449.7L186.8 450.3L186.9 450.9L186.9 451.5L186.9 452.1L187.0 452.7L187.0 453.3L187.0 453.9L187.1 454.5L187.1 455.1L187.1 455.7L187.2 456.3L187.2 456.9L187.2 457.5L187.2 458.1L187.3 458.7L187.3 459.3L187.3 459.9L187.4 460.5L187.4 461.1L187.4 461.7L187.5 462.3L187.5 462.9L187.5 463.5L187.6 464.1L187.6 464.7L187.6 465.3L187.7 465.9L187.7 466.5L187.7 467.1L187.7 467.7L187.8 468.3L187.8 468.9L187.8 469.5L187.9 470.1L187.9 470.7L187.9 471.3L188.0 471.9L188.0 472.5L188.0 473.1L188.1 473.7L188.1 474.3L188.1 474.9L188.2 475.5L188.2 476.1L188.2 476.7L188.2 477.3L188.3 477.9L188.3 478.5L188.3 479.1L188.4 479.7L188.4 480.3L188.4 480.9L188.5 481.5L188.5 482.1L188.5 482.7L188.6 483.3L188.6 483.9L188.6 484.5L188.7 485.1L188.7 485.7L188.7 486.3L188.8 486.9L188.8 487.5L188.8 488.1L188.9 488.7L188.9 489.3L188.9 489.9L189.0 490.5L189.0 491.1L189.0 491.7L189.0 492.3L189.1 492.9L189.1 493.5L189.1 494.1L189.2 494.7L189.2 495.3L189.2 495.9L189.3 496.5L189.3 497.1L189.3 497.7L189.4 498.3L189.4 498.9L189.4 499.5L189.5 500.1L189.5 500.7L189.5 501.3L189.6 501.9L189.6 502.5L189.6 503.1L189.7 503.7L189.7 504.4L189.7 505.0L189.8 505.6L189.8 506.2L189.8 506.8L189.9 507.4L189.9 508.0L189.9 508.6L190.0 509.2L190.0 509.8L190.0 510.4L190.1 511.0L190.1 511.6L190.1 512.2L190.2 512.8L190.2 513.4L190.2 514.0L190.3 514.6L190.3 515.2L190.3 515.8L190.3 516.4L190.4 517.0L190.4 517.6L190.4 518.2L190.5 518.8L190.5 519.4L190.5 520.0L190.6 520.6L190.6 521.2L190.6 521.8L190.7 522.4L190.7 523.0L190.7 523.6L190.8 524.2L190.8 524.8L190.8 525.4L190.9 526.0L190.9 526.6L190.9 527.2L191.0 527.8L191.0 528.4L191.0 529.0L191.1 529.6L191.1 530.2L191.1 530.8L191.2 531.4L191.2 532.0L191.2 532.6L191.3 533.2L191.3 533.8L191.3 534.4L191.4 535.0L191.4 535.6L191.4 536.2L191.5 536.8L191.5 537.4L191.5 538.0L191.6 538.6L191.6 539.2L191.6 539.8L191.7 540.4" stroke="#1a1a1a" stroke-width="1.6"/>
</g>
<g text-anchor="middle"><text transform="translate(65.3 571.1) scale(1 1.1)">0.00</text><text transform="translate(186.3 571.1) scale(1 1.1)">0.05</text><text transform="translate(307.2 571.1) scale(1 1.1)">0.10</text><text transform="translate(428.2 571.1) scale(1 1.1)">0.15</text><text transform="translate(549.1 571.1) scale(1 1.1)">0.20</text><text transform="translate(670.1 571.1) scale(1 1.1)">0.25</text></g>
<text transform="translate(49.2 545.6) scale(1 1.1)" text-anchor="end">0</text><text transform="translate(49.2 458.5) scale(1 1.1)" text-anchor="end">20</text><text transform="translate(49.2 371.4) scale(1 1.1)" text-anchor="end">40</text><text transform="translate(49.2 284.3) scale(1 1.1)" text-anchor="end">60</text><text transform="translate(49.2 197.1) scale(1 1.1)" text-anchor="end">80</text>
<text transform="translate(367.7 593) scale(1 1.07)" text-anchor="middle" style="font-size:16.3px">Strain</text>
<text transform="translate(13.6 365.4) rotate(-90) scale(1.085 1)" text-anchor="middle" style="font-size:14.8px">Stress (MPa)</text>
<text class="lab" transform="translate(125.3 214.9) scale(1 1.1)">KU</text>
<text class="lab" transform="translate(272.8 313.3) scale(1 1.1)" textLength="31" lengthAdjust="spacingAndGlyphs">KSU</text>
<text class="lab" transform="translate(439.8 341.9) scale(1 1.1)">BU</text>
<text class="lab" transform="translate(613.3 347.8) scale(1 1.1)" textLength="21.4" lengthAdjust="spacingAndGlyphs">SU</text>
</svg>
</body></html>
